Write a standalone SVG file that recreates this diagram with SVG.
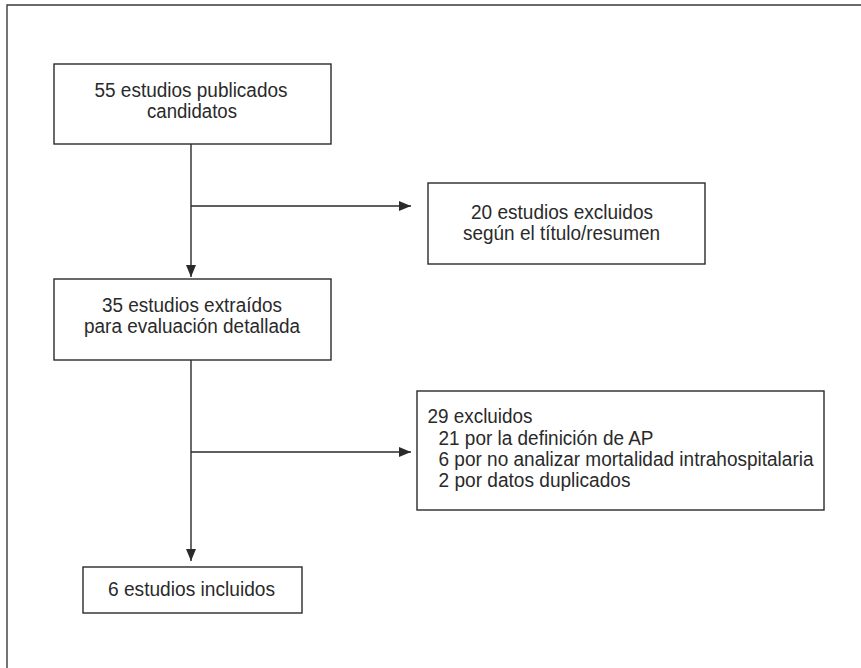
<svg xmlns="http://www.w3.org/2000/svg" width="861" height="668" viewBox="0 0 861 668">
<defs>
<style>
.box{fill:#fff;stroke:#2a2a2a;stroke-width:1.4}
.t{font-family:"Liberation Sans Narrow","Liberation Sans",Arial,sans-serif;font-size:20px;fill:#2a2a2a}
.c{text-anchor:middle}
.conn{stroke:#2a2a2a;stroke-width:1.4;fill:none}
</style>
<marker id="ah" markerUnits="userSpaceOnUse" markerWidth="12" markerHeight="10" refX="12" refY="5" orient="auto">
<path d="M0,0 L12,5 L0,10 Z" fill="#2a2a2a"/>
</marker>
</defs>
<rect width="861" height="668" fill="#fff"/>
<g id="frame">
<path d="M7,668 V5 H861" fill="none" stroke="#3a3a3a" stroke-width="1.4"/>
</g>
<g id="connectors">
<line class="conn" x1="191" y1="144" x2="191" y2="277" marker-end="url(#ah)"/>
<line class="conn" x1="191" y1="206" x2="411" y2="206" marker-end="url(#ah)"/>
<line class="conn" x1="191" y1="360" x2="191" y2="561" marker-end="url(#ah)"/>
<line class="conn" x1="191" y1="452" x2="411" y2="452" marker-end="url(#ah)"/>
</g>
<g id="n1">
<rect class="box" x="54" y="64" width="277" height="80"/>
<text class="t c" x="191" y="97" textLength="193" lengthAdjust="spacingAndGlyphs">55 estudios publicados</text>
<text class="t c" x="192" y="118" textLength="90" lengthAdjust="spacingAndGlyphs">candidatos</text>
</g>
<g id="n2">
<rect class="box" x="428" y="183" width="277" height="81"/>
<text class="t c" x="562" y="219" textLength="182" lengthAdjust="spacingAndGlyphs">20 estudios excluidos</text>
<text class="t c" x="561.5" y="240" textLength="197" lengthAdjust="spacingAndGlyphs">según el título/resumen</text>
</g>
<g id="n3">
<rect class="box" x="54" y="279" width="277" height="81"/>
<text class="t c" x="192" y="312" textLength="180" lengthAdjust="spacingAndGlyphs">35 estudios extraídos</text>
<text class="t c" x="192" y="333" textLength="216" lengthAdjust="spacingAndGlyphs">para evaluación detallada</text>
</g>
<g id="n4">
<rect class="box" x="417" y="391" width="407" height="119"/>
<text class="t" x="427.5" y="423" textLength="105" lengthAdjust="spacingAndGlyphs">29 excluidos</text>
<text class="t" x="438.5" y="444.5" textLength="215" lengthAdjust="spacingAndGlyphs">21 por la definición de AP</text>
<text class="t" x="438.5" y="466" textLength="375" lengthAdjust="spacingAndGlyphs">6 por no analizar mortalidad intrahospitalaria</text>
<text class="t" x="438.5" y="487" textLength="192" lengthAdjust="spacingAndGlyphs">2 por datos duplicados</text>
</g>
<g id="n5">
<rect class="box" x="83" y="567" width="219" height="46"/>
<text class="t c" x="191.5" y="596" textLength="167" lengthAdjust="spacingAndGlyphs">6 estudios incluidos</text>
</g>
</svg>
